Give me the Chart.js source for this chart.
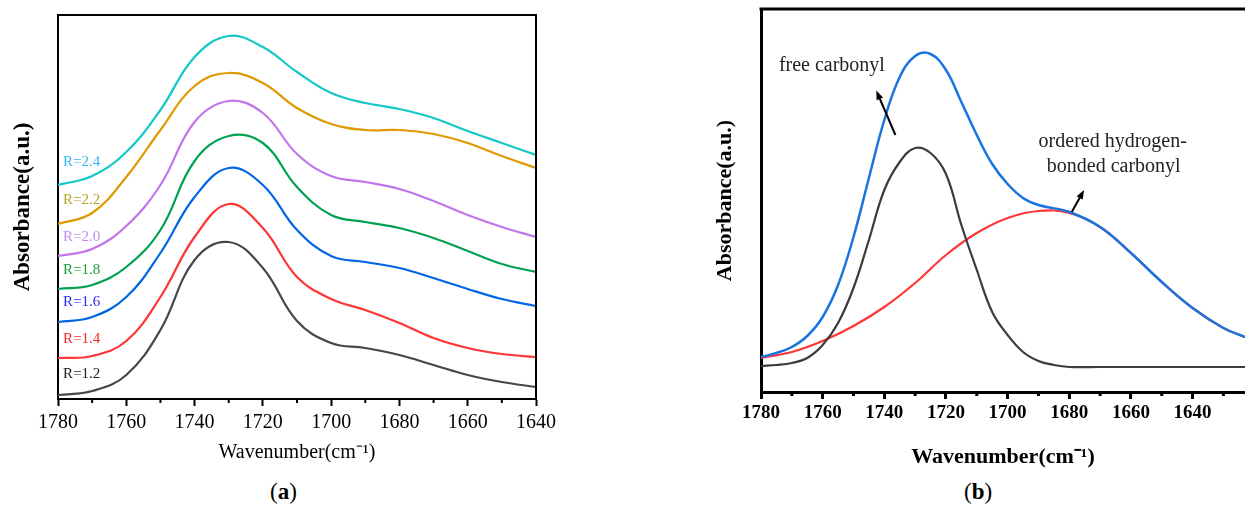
<!DOCTYPE html>
<html><head><meta charset="utf-8"><title>FTIR carbonyl region</title>
<script src="https://cdn.jsdelivr.net/npm/chart.js"></script>
<style>
body{margin:0;background:#fff;width:1245px;height:506px;overflow:hidden;position:relative;font-family:"Liberation Serif",serif}
.box{position:absolute;top:0}
#boxA{left:0;width:560px;height:470px}
#boxB{left:700px;width:545px;height:472px}
.cap{position:absolute;top:479px;font-size:23px;line-height:26px;color:#000}
</style></head>
<body>
<div id="boxA" class="box"><canvas id="chartA"></canvas></div>
<div id="boxB" class="box"><canvas id="chartB"></canvas></div>
<div class="cap" style="left:270px">(<b>a</b>)</div>
<div class="cap" style="left:964px">(<b>b</b>)</div>
<script>
// (a) spectra for each R, read every 10 cm-1
const wnA = [1780,1770,1760,1750,1740,1730,1720,1710,1700,1690,1680,1670,1660,1650,1640];
const r12 = [0.04,0.08,0.24,0.69,1.39,1.57,1.31,0.78,0.56,0.51,0.44,0.34,0.24,0.17,0.12];
const r14 = [0.41,0.43,0.58,1.02,1.62,1.95,1.71,1.22,1.00,0.89,0.76,0.61,0.51,0.45,0.42];
const r16 = [0.77,0.82,1.02,1.46,2.02,2.31,2.14,1.69,1.43,1.37,1.31,1.21,1.10,1.00,0.93];
const r18 = [1.10,1.14,1.32,1.69,2.38,2.63,2.56,2.12,1.84,1.77,1.71,1.61,1.48,1.35,1.27];
const r20 = [1.43,1.50,1.73,2.14,2.77,2.98,2.86,2.45,2.23,2.17,2.10,1.98,1.84,1.72,1.62];
const r22 = [1.75,1.86,2.22,2.69,3.13,3.26,3.16,2.91,2.75,2.69,2.69,2.65,2.56,2.43,2.31];
const r24 = [2.14,2.23,2.47,2.89,3.42,3.63,3.52,3.27,3.06,2.96,2.90,2.81,2.68,2.56,2.44];
const rNames = ['R=1.2','R=1.4','R=1.6','R=1.8','R=2.0','R=2.2','R=2.4'];

// (b) deconvolution
const wnTotal = [1780,1775,1770,1765,1760,1755,1750,1745,1740,1735,1730,1725,1720,1715,1710,1705,1700,1695,1690,1680,1670,1660,1650,1640,1630,1623];
const total   = [0.35,0.39,0.45,0.56,0.75,1.07,1.55,2.14,2.72,3.15,3.36,3.38,3.22,2.90,2.57,2.28,2.08,1.94,1.87,1.80,1.65,1.39,1.10,0.84,0.64,0.55];
const wnFree  = [1780,1775,1770,1765,1760,1755,1750,1745,1740,1735,1730,1725,1720,1715,1710,1705,1700,1695,1690,1685,1680,1670,1660,1650,1640,1630,1623];
const free    = [0.26,0.27,0.29,0.34,0.47,0.69,1.04,1.52,2.02,2.30,2.44,2.39,2.18,1.67,1.22,0.80,0.57,0.40,0.31,0.27,0.25,0.25,0.25,0.25,0.25,0.25,0.25];
const wnBond  = [1780,1770,1760,1750,1740,1730,1720,1710,1700,1690,1680,1670,1660,1650,1640,1630,1623];
const bonded  = [0.34,0.40,0.51,0.66,0.85,1.09,1.37,1.59,1.74,1.81,1.79,1.65,1.39,1.10,0.84,0.64,0.55];

const pts = (xs, ys) => xs.map((x, i) => ({x: x, y: ys[i]}));
const serif = 'Liberation Serif';

const framePlugin = {
  id: 'frame',
  afterDraw(chart, args, opts) {
    const {ctx, chartArea: a, scales: {x}} = chart;
    ctx.save();
    ctx.strokeStyle = '#000';
    ctx.lineWidth = opts.width;
    ctx.beginPath();
    ctx.moveTo(a.left - opts.width / 2, a.top);
    ctx.lineTo(a.right, a.top);
    if (opts.right) ctx.lineTo(a.right, a.bottom);
    ctx.stroke();
    // short minor ticks
    x.ticks.forEach(t => {
      if (t.value % 20 !== 0) {
        const px = x.getPixelForValue(t.value);
        ctx.beginPath();
        ctx.moveTo(px, a.bottom);
        ctx.lineTo(px, a.bottom + opts.minor);
        ctx.stroke();
      }
    });
    ctx.restore();
  }
};

const notesPlugin = {
  id: 'notes',
  afterDatasetsDraw(chart, args, opts) {
    const {ctx, scales: {x, y}} = chart;
    ctx.save();
    (opts.texts || []).forEach(t => {
      ctx.font = (t.bold ? 'bold ' : '') + t.size + 'px "' + serif + '"';
      ctx.fillStyle = t.color;
      ctx.textAlign = t.align;
      ctx.textBaseline = 'middle';
      ctx.fillText(t.text, x.getPixelForValue(t.x), y.getPixelForValue(t.y));
    });
    (opts.arrows || []).forEach(ar => {
      const x0 = x.getPixelForValue(ar.from[0]), y0 = y.getPixelForValue(ar.from[1]);
      const x1 = x.getPixelForValue(ar.to[0]), y1 = y.getPixelForValue(ar.to[1]);
      const ang = Math.atan2(y1 - y0, x1 - x0);
      ctx.strokeStyle = '#000';
      ctx.fillStyle = '#000';
      ctx.lineWidth = 2;
      ctx.beginPath();
      ctx.moveTo(x0, y0);
      ctx.lineTo(x1 - 6 * Math.cos(ang), y1 - 6 * Math.sin(ang));
      ctx.stroke();
      ctx.beginPath();
      ctx.moveTo(x1, y1);
      ctx.lineTo(x1 - 9 * Math.cos(ang) + 3.5 * Math.sin(ang), y1 - 9 * Math.sin(ang) - 3.5 * Math.cos(ang));
      ctx.lineTo(x1 - 9 * Math.cos(ang) - 3.5 * Math.sin(ang), y1 - 9 * Math.sin(ang) + 3.5 * Math.cos(ang));
      ctx.closePath();
      ctx.fill();
    });
    ctx.restore();
  }
};

function xAxis(max, h, tickFont, tickPad, titleFont, titlePad, bw) {
  return {
    type: 'linear', reverse: true, min: max, max: 1780,
    afterBuildTicks: s => { s.ticks = []; for (let v = 1780; v >= max; v -= 10) s.ticks.push({value: v}); },
    afterFit: s => { s.height = h; s.paddingLeft = 0; s.paddingRight = 0; },
    ticks: {autoSkip: false, maxRotation: 0, padding: tickPad, color: '#000', font: tickFont,
            callback: v => v % 20 === 0 ? String(v) : ''},
    grid: {drawOnChartArea: false, tickLength: 7, tickWidth: bw,
           tickColor: c => (c.tick && c.tick.value % 20 === 0) ? '#000' : 'rgba(0,0,0,0)'},
    border: {color: '#000', width: bw},
    title: {display: true, text: 'Wavenumber(cm⁻¹)', color: '#000', font: titleFont, padding: {top: 0, bottom: titlePad}}
  };
}

function yAxis(max, w, titleSize, titlePad, bw) {
  return {
    min: 0, max: max,
    afterFit: s => { s.width = w; },
    ticks: {display: false},
    grid: {drawOnChartArea: false, drawTicks: false},
    border: {color: '#000', width: bw},
    title: {display: true, text: 'Absorbance(a.u.)', color: '#000',
            font: {family: serif, size: titleSize, weight: 'bold'}, padding: {top: titlePad, bottom: 0}}
  };
}

const seriesA = [r12, r14, r16, r18, r20, r22, r24];
const lineColA = ['#474747', '#ff3434', '#0066e6', '#00a152', '#c274ea', '#de9a00', '#14c8c8'];
const textColA = ['#222222', '#f52828', '#2b2bf5', '#16a040', '#c48bf0', '#b3a22c', '#38b6f0'];
const labelYA = [0.245, 0.60, 0.97, 1.285, 1.62, 1.99, 2.37];

new Chart(document.getElementById('chartA'), {
  type: 'line',
  data: {
    datasets: seriesA.map((s, i) => ({
      label: rNames[i], data: pts(wnA, s), borderColor: lineColA[i], borderWidth: 2.2,
      pointRadius: 0, tension: 0.4, fill: false
    }))
  },
  options: {
    responsive: true, maintainAspectRatio: false, animation: false,
    layout: {padding: {top: 15, right: 24, left: 0, bottom: 0}},
    plugins: {
      legend: {display: false}, tooltip: {enabled: false},
      frame: {width: 2, right: true, minor: 4},
      notes: {texts: rNames.map((n, i) => ({text: n, x: 1778.5, y: labelYA[i], color: textColA[i], size: 15, align: 'left'}))}
    },
    scales: {
      x: xAxis(1640, 71, {family: serif, size: 20}, 5, {family: serif, size: 20}, 5, 2),
      y: yAxis(3.84, 58, 23, 9, 2)
    }
  },
  plugins: [framePlugin, notesPlugin]
});

new Chart(document.getElementById('chartB'), {
  type: 'line',
  data: {
    datasets: [
      {label: 'total', data: pts(wnTotal, total), borderColor: '#1a74e0', borderWidth: 2.5},
      {label: 'free carbonyl', data: pts(wnFree, free), borderColor: '#3c3c3c', borderWidth: 2.2},
      {label: 'ordered hydrogen-bonded carbonyl', data: pts(wnBond, bonded), borderColor: '#ff3636', borderWidth: 2.2}
    ].map(d => Object.assign(d, {pointRadius: 0, tension: 0.4, fill: false}))
  },
  options: {
    responsive: true, maintainAspectRatio: false, animation: false,
    layout: {padding: {top: 9, right: 0, left: 0, bottom: 0}},
    plugins: {
      legend: {display: false}, tooltip: {enabled: false},
      frame: {width: 3, right: false, minor: 4},
      notes: {
        texts: [
          {text: 'free carbonyl', x: 1774.2, y: 3.26, color: '#222', size: 20, align: 'left'},
          {text: 'ordered hydrogen-', x: 1665.9, y: 2.505, color: '#222', size: 20, align: 'center'},
          {text: 'bonded carbonyl', x: 1665.6, y: 2.255, color: '#222', size: 20, align: 'center'}
        ],
        arrows: [
          {from: [1736.4, 2.57], to: [1742.6, 3.015]},
          {from: [1679.2, 1.80], to: [1675.2, 2.02]}
        ]
      }
    },
    scales: {
      x: xAxis(1623, 80, {family: serif, size: 19, weight: 'bold'}, 3, {family: serif, size: 22, weight: 'bold'}, 1, 3),
      y: yAxis(3.83, 61, 22, 12, 3)
    }
  },
  plugins: [framePlugin, notesPlugin]
});
</script></body></html>
